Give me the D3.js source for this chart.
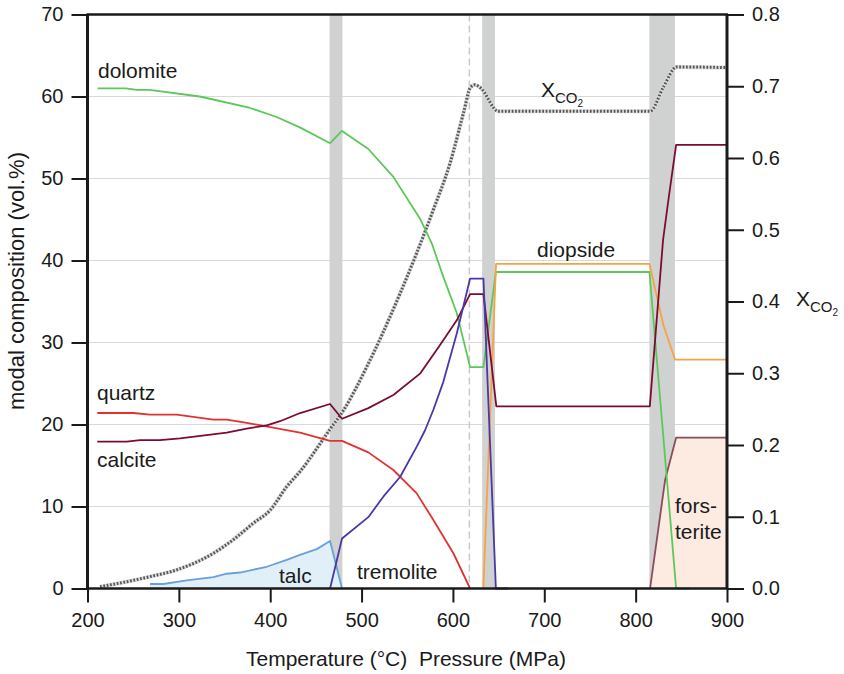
<!DOCTYPE html>
<html>
<head>
<meta charset="utf-8">
<script src="https://cdn.jsdelivr.net/npm/d3@7"></script>
<style>
  html, body { margin: 0; padding: 0; background: #fff; }
  svg { display: block; font-family: "Liberation Sans", Arial, Helvetica, sans-serif; }
</style>
</head>
<body>
<svg id="chart" width="844" height="674"></svg>
<script>
// ---------- data (temperature °C, value) ----------
const xTicks = [200, 300, 400, 500, 600, 700, 800, 900];
const yTicksLeft = [0, 10, 20, 30, 40, 50, 60, 70];
const yTicksRight = [0, 0.1, 0.2, 0.3, 0.4, 0.5, 0.6, 0.7, 0.8];
const gridValues = [10, 20, 30, 40, 50, 60];

const bands = [[465, 479], [632, 646], [815, 843]];
const dashedT = 618;

const dolomite = [[211,61],[242,61],[254,60.8],[268,60.8],[323,60.0],[378,58.6],[407,57.5],[433,56.2],
  [465.5,54.3],[478.6,55.8],[507.4,53.6],[534.8,50.2],[564,45.1],[576.8,42.1],[589.5,38.0],[604.2,33.6],
  [618.8,27.0],[633.4,27.0],[647,38.6],[815.1,38.6],[844.3,0],[859,0]];
const quartz = [[210.7,21.4],[250,21.4],[268.4,21.2],[297.6,21.2],[337.7,20.6],[352.4,20.6],[374.3,20.2],
  [432.6,19.0],[465.5,18.0],[478.6,18.0],[507.4,16.6],[534.8,14.45],[560.4,11.6],[578.6,8.35],[600.5,4.3],[618.8,0]];
const calcite = [[210.7,17.9],[242.9,17.9],[257.5,18.1],[279.4,18.1],[301.3,18.3],[352.4,19.0],[374.3,19.5],
  [396.2,19.9],[410.8,20.4],[432.7,21.4],[465.5,22.5],[478.6,20.7],[507.4,22.0],[534.8,23.6],[564,26.2],
  [585.9,29.7],[604.2,32.7],[618.8,35.9],[633.4,35.9],[647.5,22.2],[815.5,22.2],[830,42.5],[836,47.5],
  [844.3,54.1],[900,54.1]];
const tremolite = [[465.5,0],[478.6,6.1],[507.4,8.7],[523.8,11.2],[542.1,13.6],[560.4,17.3],[569.5,19.3],
  [578.6,21.8],[589.5,25.2],[604.2,31.1],[618.8,37.8],[633.4,37.8],[647,0],[660.7,0]];
const talc = [[268.4,0.55],[283,0.55],[308.6,1.0],[337.7,1.4],[352.4,1.8],[367,1.95],[396.2,2.65],
  [418.1,3.5],[432.6,4.1],[450.9,4.8],[465.5,5.8],[478.6,0]];
const diopside = [[633.3,0],[647.2,39.6],[815.1,39.6],[830.4,32.1],[843.2,27.9],[900,27.9]];
const forsterite = [[815.8,0],[832.2,13.2],[844.3,18.4],[900,18.4]];
const xco2 = [[213.7,0.0025],[243,0.0095],[268.4,0.0165],[297.7,0.026],[337.7,0.049],[359.6,0.068],
  [381.5,0.091],[399.8,0.109],[418.1,0.142],[432.6,0.163],[465.5,0.222],[480,0.248],[505.7,0.309],
  [542.1,0.411],[578.6,0.528],[596.9,0.593],[612,0.665],[619,0.698],[624,0.702],[630,0.698],
  [649.8,0.665],[815.8,0.665],[830.4,0.699],[845,0.727],[900,0.726]];

// ---------- layout ----------
const svg = d3.select("#chart");
const L = 87.5, R = 727, T = 14.5, B = 588.5;
const x = d3.scaleLinear().domain([200, 900]).range([L, R]);
const y = d3.scaleLinear().domain([0, 70]).range([B, T]);
const y2 = d3.scaleLinear().domain([0, 0.8]).range([B, T]);

const FS = 20;   // tick labels
const LS = 21;   // text labels

// gridlines
svg.append("g").selectAll("line").data(gridValues).join("line")
  .attr("x1", L).attr("x2", R).attr("y1", d => y(d)).attr("y2", d => y(d))
  .attr("stroke", "#d9d9d9").attr("stroke-width", 1.2);

// grey bands
svg.append("g").selectAll("rect").data(bands).join("rect")
  .attr("x", d => x(d[0])).attr("width", d => x(d[1]) - x(d[0]))
  .attr("y", T).attr("height", B - T).attr("fill", "#d0d1d1");

// dashed vertical line
svg.append("line").attr("x1", x(dashedT)).attr("x2", x(dashedT)).attr("y1", T).attr("y2", B)
  .attr("stroke", "#c8c8c8").attr("stroke-width", 1.5).attr("stroke-dasharray", "7,4");

// fills
const area = d3.area().x(d => x(d[0])).y0(y(0)).y1(d => y(d[1]));
svg.append("path").datum(talc).attr("d", area).attr("fill", "#e1eff8");
svg.append("path").datum(forsterite).attr("d", area).attr("fill", "#fdebe1");

const line = d3.line().x(d => x(d[0])).y(d => y(d[1]));
const line2 = d3.line().x(d => x(d[0])).y(d => y2(d[1])).curve(d3.curveMonotoneX);

// XCO2 rope-like dotted line
svg.append("path").datum(xco2).attr("d", line2).attr("fill", "none")
  .attr("stroke", "#dcdcdc").attr("stroke-width", 4);
svg.append("path").datum(xco2).attr("d", line2).attr("fill", "none")
  .attr("stroke", "#555").attr("stroke-width", 3).attr("stroke-dasharray", "1.7,1.7");

const series = [
  [talc, "#6b9fdb"],
  [forsterite, "#8a4c5c"],
  [quartz, "#e2312f"],
  [dolomite, "#5cc85a"],
  [diopside, "#f7a345"],
  [calcite, "#7c0b32"],
  [tremolite, "#4a38a8"]
];
series.forEach(([data, col]) => {
  svg.append("path").datum(data).attr("d", line).attr("fill", "none")
    .attr("stroke", col).attr("stroke-width", 1.8).attr("stroke-linejoin", "round");
});

// axes
const axisColor = "#1a1a1a";
const gx = svg.append("g").attr("transform", `translate(0,${B})`)
  .call(d3.axisBottom(x).tickValues(xTicks).tickSize(14).tickPadding(10).tickFormat(d3.format("d")));
const gy = svg.append("g").attr("transform", `translate(${L},0)`)
  .call(d3.axisLeft(y).tickValues(yTicksLeft).tickSize(16).tickPadding(8).tickFormat(d3.format("d")));
const gy2 = svg.append("g").attr("transform", `translate(${R},0)`)
  .call(d3.axisRight(y2).tickValues(yTicksRight).tickSize(17).tickPadding(8).tickFormat(d3.format(".1f")));
[gx, gy, gy2].forEach(g => {
  g.select(".domain").remove();
  g.selectAll(".tick line").attr("stroke", axisColor).attr("stroke-width", 2);
  g.selectAll(".tick text").attr("fill", "#1a1a1a").style("font-size", FS + "px")
    .style("font-family", '"Liberation Sans", Arial, sans-serif');
});
// frame lines
svg.append("line").attr("x1", L - 1).attr("x2", R + 1).attr("y1", T).attr("y2", T).attr("stroke", axisColor).attr("stroke-width", 2.5);
svg.append("line").attr("x1", L - 1).attr("x2", R + 1).attr("y1", B).attr("y2", B).attr("stroke", axisColor).attr("stroke-width", 2.5);
svg.append("line").attr("x1", L).attr("x2", L).attr("y1", T).attr("y2", B).attr("stroke", axisColor).attr("stroke-width", 3);
svg.append("line").attr("x1", R).attr("x2", R).attr("y1", T).attr("y2", B).attr("stroke", axisColor).attr("stroke-width", 3);

// axis titles
svg.append("text").attr("x", 406).attr("y", 666).attr("text-anchor", "middle")
  .attr("fill", "#1a1a1a").style("font-size", LS + "px").style("white-space", "pre")
  .text("Temperature (°C)  Pressure (MPa)");
svg.append("text").attr("transform", "translate(24,281) rotate(-90)").attr("text-anchor", "middle")
  .attr("fill", "#1a1a1a").style("font-size", "22px").text("modal composition (vol.%)");

function xco2Label(x0, yb) {
  const t = svg.append("text").attr("x", x0).attr("y", yb).attr("fill", "#1a1a1a").style("font-size", LS + "px");
  t.append("tspan").text("X");
  t.append("tspan").attr("dy", 6).style("font-size", "15px").text("CO");
  t.append("tspan").attr("dy", 4).style("font-size", "10px").text("2");
}
xco2Label(541, 97);
xco2Label(796, 306);

// mineral labels
const labels = [
  ["dolomite", 98, 78],
  ["quartz", 97, 400],
  ["calcite", 97, 467],
  ["talc", 279, 583],
  ["tremolite", 357, 579],
  ["diopside", 537, 257],
  ["fors-", 675, 513],
  ["terite", 675, 539]
];
svg.append("g").selectAll("text").data(labels).join("text")
  .attr("x", d => d[1]).attr("y", d => d[2]).attr("fill", "#1a1a1a")
  .style("font-size", LS + "px").text(d => d[0]);
</script>
</body>
</html>
